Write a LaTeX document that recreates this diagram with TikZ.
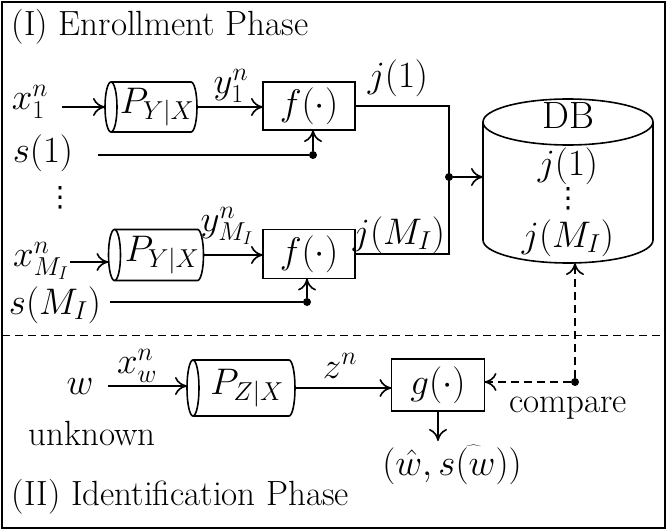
\RequirePackage{fix-cm}
\documentclass[tikz,border=0pt]{standalone}
\usepackage{fontspec}
\newfontfamily\djv{DejaVu Sans}
\usetikzlibrary{arrows.meta,calc}
\tikzset{
  ln/.style={line width=1.6pt},
  arr/.style={line width=1.6pt, -{To[length=12pt,width=18pt,line width=1.6pt]}},
  boxf/.style={draw, line width=1.6pt, inner sep=0pt, outer sep=0pt, mth},
  cylbox/.style={inner sep=0pt, outer sep=0pt, mth},
  lbl/.style={inner sep=0pt, outer sep=0pt},
  mth/.style={font=\fontsize{37}{44}\selectfont},
  vdt/.style={inner sep=0pt, outer sep=0pt, font=\djv\fontsize{28}{30}\selectfont},
  jdot/.style={circle, fill, inner sep=0pt, minimum size=8pt},
  dsh/.style={dash pattern=on 8pt off 5pt},
}
\newcommand\hcyl[5]{%
  \node[cylbox, minimum width=#3pt, minimum height=#4pt] (#1) at #2 {\hspace{12pt}#5};
  \draw[ln] ([xshift=6pt]#1.north west) -- ([xshift=-6pt]#1.north east)
     arc[start angle=90,end angle=-90,x radius=6pt,y radius=#4pt/2]
     -- ([xshift=6pt]#1.south west);
  \draw[ln] ([xshift=6pt]#1.west) ellipse[x radius=6pt, y radius=#4pt/2];}
\begin{document}
\begin{tikzpicture}[x=1pt,y=-1pt,font=\fontsize{35}{42}\selectfont]
\useasboundingbox (0,0) rectangle (667,530);
\draw[line width=2pt] (2,2) rectangle (665,528);
% titles
\node[lbl, anchor=base west] (t1) at (12,35) {(I) Enrollment Phase};
\node[lbl, anchor=base west] (t2) at (12,505) {(II) Identification Phase};
% separator
\coordinate (sepl) at (2,335);
\coordinate (sepr) at (665,335);
\draw[dsh, line width=1pt] (sepl) -- (sepr);

% ---- row 1
\hcyl{cyl1}{(151,107)}{92}{50}{$P_{Y|X}$}
\node[boxf, minimum width=92pt, minimum height=48pt] (f1) at (309,106) {$f(\cdot)$};
\node[lbl, mth] (x1) at (30,102) {$x_1^n$};
\coordinate (x1s) at (62,107);
\draw[arr] (x1s) -- (x1s -| cyl1.west);
\node[lbl, mth] (y1) at (231,86) {$y_1^n$};
\draw[arr] (cyl1.east) -- (cyl1.east -| f1.west);
\node[lbl, mth] (s1) at (43,153) {$s(1)$};
\coordinate (s1s) at (98,155);
\node[jdot] (d1) at (313,155) {};
\draw[ln] (s1s) -- (d1);
\draw[arr] (d1) -- (d1 |- f1.south);
\node[lbl, mth] (j1) at (398,78) {$j(1)$};

% ---- dots
\node[vdt] (vd) at (60,198) {⋮};

% ---- row 2
\hcyl{cyl2}{(156,255)}{95}{51}{$P_{Y|X}$}
\node[boxf, minimum width=92pt, minimum height=49pt] (f2) at (309,254) {$f(\cdot)$};
\node[lbl, mth] (xM) at (41,261) {$x_{M_I}^n$};
\coordinate (xMs) at (70,262);
\draw[arr] (xMs) -- (xMs -| cyl2.west);
\node[lbl, mth] (yM) at (227,226) {$y_{M_I}^n$};
\draw[arr] (cyl2.east) -- (cyl2.east -| f2.west);
\node[lbl, mth] (sM) at (55,305) {$s(M_I)$};
\coordinate (sMs) at (110,302);
\node[jdot] (d2) at (307,302) {};
\draw[ln] (sMs) -- (d2);
\draw[arr] (d2) -- (d2 |- f2.south);
\node[lbl, mth] (jM) at (399,235) {$j(M_I)$};

% ---- merge
\node[jdot] (jn) at (449,177) {};
\draw[ln] (f1.east) -| (jn.center) |- (f2.east);

% ---- DB
\node[cylbox, minimum width=170pt, minimum height=118pt] (db) at (568,181) {};
\draw[ln] (db.north) ellipse[x radius=85pt, y radius=23pt];
\draw[ln] (db.north west) -- (db.south west)
   arc[start angle=180, end angle=360, x radius=85pt, y radius=23pt]
   -- (db.north east);
\node[lbl, font=\fontsize{38}{44}\selectfont] (dbt) at (568,116) {DB};
\node[lbl, mth] (dbj1) at (568,166) {$j(1)$};
\node[vdt] (dbv) at (568,199) {⋮};
\node[lbl, mth] (dbjM) at (568,238) {$j(M_I)$};
\draw[arr] (jn) -- (jn -| db.west);
\coordinate (dbbot) at ($(db.south)+(0,23)$);

% ---- identification
\node[lbl, mth] (w) at (80,387) {$w$};
\coordinate (ws) at (108,386);
\hcyl{cyl3}{(241,388)}{108}{56}{$P_{Z|X}$}
\draw[arr] (ws) -- (ws -| cyl3.west);
\node[lbl, mth] (xw) at (137,366) {$x_w^n$};
\node[lbl, anchor=base] (unk) at (92,445) {unknown};
\node[boxf, minimum width=93pt, minimum height=52pt] (g) at (438,385) {$g(\cdot)$};
\node[lbl, mth] (zn) at (340,366) {$z^n$};
\draw[arr] (cyl3.east) -- (cyl3.east -| g.west);
\node[jdot] (cd) at (575,382) {};
\draw[arr,dsh] (cd) -- (cd -| g.east);
\draw[arr,dsh] (cd) -- (cd |- dbbot);
\node[lbl, anchor=base] (cmp) at (568,412) {compare};
\coordinate (gout) at (438,441);
\draw[arr] (g.south) -- (gout);
\node[lbl, mth] (res) at (452,465) {$(\hat{w},\widehat{s(w)})$};
\end{tikzpicture}
\end{document}
